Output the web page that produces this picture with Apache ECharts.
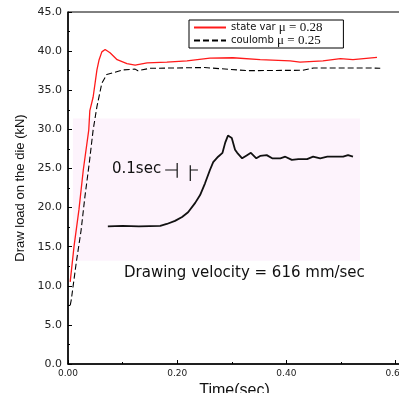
<!DOCTYPE html>
<html>
<head>
<meta charset="utf-8">
<script src="https://cdn.jsdelivr.net/npm/echarts@6/dist/echarts.min.js"></script>
<style>
  html, body { margin: 0; padding: 0; background: #fff; }
  #chart { width: 399px; height: 393px; }
</style>
</head>
<body>
<div id="chart"></div>
<script>
// state variable friction, mu = 0.28
const stateVarTime = [0.004, 0.011, 0.020, 0.028, 0.038, 0.040, 0.046, 0.053, 0.057, 0.062, 0.068, 0.077, 0.090, 0.108, 0.123, 0.145, 0.181, 0.218, 0.260, 0.302, 0.352, 0.407, 0.425, 0.467, 0.499, 0.522, 0.566];
const stateVarLoad = [10.5, 15.0, 19.7, 24.8, 29.9, 32.4, 34.1, 37.6, 38.9, 39.9, 40.2, 39.8, 38.9, 38.4, 38.2, 38.5, 38.6, 38.75, 39.1, 39.15, 38.9, 38.75, 38.6, 38.75, 39.05, 38.9, 39.2];

// coulomb friction, mu = 0.25
const coulombTime = [0.004, 0.006, 0.015, 0.024, 0.031, 0.039, 0.046, 0.053, 0.062, 0.071, 0.086, 0.101, 0.123, 0.128, 0.150, 0.250, 0.330, 0.430, 0.450, 0.550, 0.572];
const coulombLoad = [7.5, 8.2, 12.9, 17.1, 21.4, 25.7, 29.9, 32.9, 35.9, 37.0, 37.3, 37.6, 37.7, 37.5, 37.8, 37.9, 37.5, 37.55, 37.85, 37.85, 37.8];

// measured trace in the inset
const insetTime = [0.073, 0.100, 0.130, 0.169, 0.181, 0.196, 0.209, 0.220, 0.233, 0.242, 0.251, 0.260, 0.266, 0.275, 0.283, 0.288, 0.293, 0.300, 0.306, 0.310, 0.319, 0.328, 0.335, 0.345, 0.352, 0.364, 0.374, 0.389, 0.398, 0.410, 0.422, 0.438, 0.449, 0.462, 0.475, 0.489, 0.504, 0.513, 0.522];
const insetLoad = [17.6, 17.65, 17.6, 17.65, 17.9, 18.3, 18.8, 19.4, 20.6, 21.6, 23.1, 24.8, 25.8, 26.5, 27.0, 28.3, 29.2, 28.9, 27.4, 27.0, 26.3, 26.7, 27.0, 26.3, 26.6, 26.7, 26.3, 26.3, 26.5, 26.1, 26.2, 26.2, 26.5, 26.3, 26.5, 26.5, 26.5, 26.7, 26.5];

// 0.1 sec scale marker of the inset
const scaleTime = [0.178, 0.200, null, 0.200, 0.200, null, 0.224, 0.224, null, 0.224, 0.238];
const scaleLoad = [24.8, 24.8, null, 25.7, 23.8, null, 25.4, 23.4, null, 24.8, 24.8];

const yTicks = [0, 5, 10, 15, 20, 25, 30, 35, 40, 45];
const xTicks = [0, 0.2, 0.4, 0.6];

const pairs = (xs, ys) => xs.map((x, i) => (x === null ? [null, null] : [x, ys[i]]));

const chart = echarts.init(document.getElementById('chart'));

chart.setOption({
    animation: false,
    backgroundColor: '#fff',
    grid: {
        left: 68,
        top: 12,
        bottom: 29,
        right: -2,
        containLabel: false,
        outerBoundsMode: 'none',
        show: true,
        borderColor: '#000',
        borderWidth: 1
    },
    legend: {
        orient: 'vertical',
        left: 189,
        top: 20,
        itemWidth: 32,
        itemHeight: 12,
        itemGap: 0,
        padding: [1, 21, 1, 4],
        borderColor: '#000',
        borderWidth: 1,
        backgroundColor: '#fff',
        itemStyle: { color: 'transparent', borderWidth: 0 },
        data: ['state var', 'coulomb'],
        formatter: name => name === 'state var'
            ? '{a|state var }{b|\u03bc = 0.28}'
            : '{a|coulomb }{b|\u03bc = 0.25}',
        textStyle: {
            rich: {
                a: { fontFamily: 'DejaVu Sans', fontSize: 10, color: '#111', lineHeight: 14 },
                b: { fontFamily: 'Liberation Serif', fontSize: 13, color: '#111', lineHeight: 14 }
            }
        }
    },
    xAxis: {
        type: 'value',
        min: 0,
        max: 0.61,
        interval: 0.2,
        name: 'Time(sec)',
        nameLocation: 'middle',
        nameGap: 12,
        nameTextStyle: { fontFamily: 'Liberation Sans', fontSize: 16, color: '#111', verticalAlign: 'top' },
        axisLine: { lineStyle: { color: '#000', width: 1.5 } },
        axisTick: { inside: true, length: 4, lineStyle: { color: '#000' } },
        minorTick: { show: true, splitNumber: 2, length: 2, lineStyle: { color: '#000' } },
        splitLine: { show: false },
        axisLabel: {
            showMaxLabel: false,
            margin: 5,
            fontFamily: 'DejaVu Sans',
            fontSize: 9,
            color: '#222',
            formatter: v => xTicks.some(t => Math.abs(t - v) < 1e-9) ? v.toFixed(2) : ''
        }
    },
    yAxis: {
        type: 'value',
        min: 0,
        max: 45,
        interval: 5,
        name: 'Draw load on the die (kN)',
        nameLocation: 'middle',
        nameGap: 40,
        nameTextStyle: { fontFamily: 'Liberation Sans', fontSize: 13, color: '#111' },
        axisLine: { show: true, lineStyle: { color: '#000', width: 1.5 } },
        axisTick: { show: true, inside: true, length: 4, lineStyle: { color: '#000' } },
        minorTick: { show: true, splitNumber: 2, length: 2, lineStyle: { color: '#000' } },
        splitLine: { show: false },
        axisLabel: {
            margin: 6,
            fontFamily: 'DejaVu Sans',
            fontSize: 11,
            color: '#222',
            formatter: v => yTicks.includes(v) ? v.toFixed(1) : ''
        }
    },
    graphic: {
        elements: [
            {
                type: 'text',
                id: 'scaleText',
                x: 112,
                y: 162,
                z: 20,
                style: { text: '0.1sec', fontFamily: 'DejaVu Sans', fontSize: 15, fill: '#111' }
            },
            {
                type: 'text',
                id: 'velocityText',
                x: 124,
                y: 266,
                z: 20,
                style: { text: 'Drawing velocity = 616 mm/sec', fontFamily: 'DejaVu Sans', fontSize: 15, fill: '#111' }
            }
        ]
    },
    series: [
        {
            name: 'inset',
            type: 'line',
            symbol: 'none',
            z: 1,
            data: pairs(insetTime, insetLoad),
            lineStyle: { color: '#111', width: 1.8 },
            markArea: {
                silent: true,
                itemStyle: { color: '#fdf3fc' },
                data: [[{ coord: [0.009, 31.4] }, { coord: [0.535, 13.2] }]]
            }
        },
        {
            name: 'scale',
            type: 'line',
            symbol: 'none',
            connectNulls: false,
            z: 1,
            data: pairs(scaleTime, scaleLoad),
            lineStyle: { color: '#111', width: 1.2 }
        },
        {
            name: 'coulomb',
            type: 'line',
            symbol: 'none',
            z: 2,
            data: pairs(coulombTime, coulombLoad),
            lineStyle: { color: '#000', width: 1.1, type: [6, 3] }
        },
        {
            name: 'state var',
            type: 'line',
            symbol: 'none',
            z: 3,
            data: pairs(stateVarTime, stateVarLoad),
            lineStyle: { color: '#ff1a1a', width: 1.3 }
        }
    ]
});
</script>
</body>
</html>
